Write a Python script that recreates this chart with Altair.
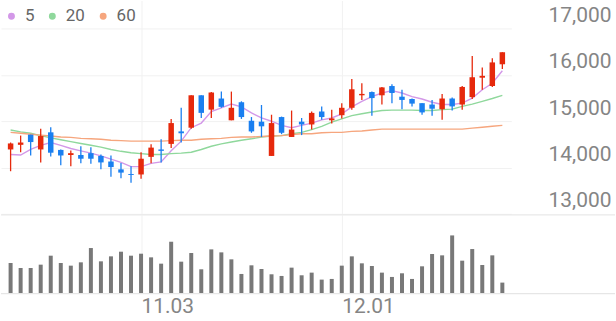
import json
import altair as alt
import pandas as pd

# ---- data ----
dates = ["10.15", "10.16", "10.17", "10.20", "10.21", "10.22", "10.23", "10.24", "10.27", "10.28",
         "10.29", "10.30", "10.31", "11.03", "11.04", "11.05", "11.06", "11.07", "11.10", "11.11",
         "11.12", "11.13", "11.14", "11.17", "11.18", "11.19", "11.20", "11.21", "11.24", "11.25",
         "11.26", "11.27", "11.28", "12.01", "12.02", "12.03", "12.04", "12.05", "12.08", "12.09",
         "12.10", "12.11", "12.12", "12.15", "12.16", "12.17", "12.18", "12.19", "12.22", "12.23"]

opens = [14390, 14490, 14710, 14390, 14760, 14380, 14270, 14270, 14310, 14250,
         14130, 13960, 13860, 13850, 14230, 14390, 14510, 14780, 14860, 15560,
         15250, 15490, 15020, 15410, 15010, 14990, 14250, 15090, 14660, 14990,
         14930, 15210, 15020, 15130, 15290, 15560, 15630, 15560, 15760, 15530,
         15480, 15390, 15360, 15260, 15490, 15360, 15520, 15940, 15760, 16230]
highs = [14540, 14690, 14710, 14840, 14870, 14390, 14370, 14460, 14440, 14280,
         14260, 14100, 14030, 14330, 14500, 14610, 15050, 15290, 15560, 15560,
         15630, 15640, 15640, 15430, 15090, 15350, 15140, 15100, 15230, 15070,
         15210, 15320, 15250, 15390, 15910, 15820, 15640, 15740, 15800, 15680,
         15490, 15390, 15460, 15590, 15510, 15760, 16410, 16160, 16360, 16490]
lows = [13920, 14330, 14260, 14110, 14240, 14050, 14030, 14090, 14080, 13960,
        13800, 13770, 13670, 13760, 14090, 14110, 14420, 14540, 14840, 15070,
        15070, 15290, 15020, 15050, 14750, 14660, 14250, 14720, 14660, 14700,
        14820, 15030, 14950, 15060, 15250, 15460, 15120, 15360, 15390, 15260,
        15320, 15140, 15120, 15030, 15230, 15250, 15480, 15680, 15740, 16130]
closes = [14520, 14540, 14550, 14680, 14320, 14260, 14310, 14190, 14190, 14110,
          14010, 13890, 13840, 14190, 14430, 14360, 14960, 14740, 15560, 15180,
          15620, 15310, 15290, 15090, 14780, 14890, 14960, 14750, 14820, 14930,
          15180, 15090, 15060, 15290, 15690, 15590, 15500, 15730, 15610, 15460,
          15380, 15190, 15270, 15490, 15320, 15740, 15950, 15980, 16270, 16490]

ma5 = [14280, 14270, 14390, 14480, 14540, 14480, 14410, 14360, 14310, 14250,
       14180, 14110, 14020, 14020, 14090, 14120, 14360, 14570, 14860, 14960,
       15210, 15290, 15370, 15310, 15180, 15070, 15000, 14910, 14860, 14910,
       14960, 15030, 15070, 15160, 15310, 15430, 15530, 15610, 15660, 15610,
       15530, 15480, 15410, 15360, 15360, 15390, 15500, 15680, 15820, 16090]
ma20 = [14810, 14770, 14740, 14690, 14640, 14600, 14560, 14520, 14480, 14440,
        14390, 14350, 14320, 14300, 14280, 14280, 14300, 14310, 14330, 14390,
        14460, 14510, 14550, 14590, 14620, 14660, 14680, 14690, 14730, 14760,
        14820, 14890, 14980, 15050, 15120, 15160, 15200, 15230, 15240, 15240,
        15240, 15230, 15230, 15250, 15260, 15320, 15370, 15430, 15490, 15560]
ma60 = [14760, 14740, 14720, 14700, 14680, 14660, 14650, 14630, 14620, 14610,
        14590, 14580, 14570, 14570, 14570, 14570, 14580, 14590, 14590, 14610,
        14620, 14630, 14650, 14660, 14660, 14670, 14680, 14690, 14710, 14730,
        14730, 14750, 14760, 14760, 14780, 14790, 14810, 14830, 14830, 14830,
        14830, 14830, 14830, 14830, 14830, 14830, 14850, 14870, 14890, 14910]

volume = [92, 77, 77, 87, 114, 92, 84, 94, 137, 97,
          112, 126, 114, 120, 109, 90, 156, 96, 122, 73,
          133, 124, 103, 59, 85, 74, 58, 53, 78, 55,
          63, 42, 44, 84, 112, 91, 83, 63, 50, 61,
          44, 82, 119, 115, 175, 99, 134, 86, 115, 33]

ma_names = ["5", "20", "60"]
ma_colors = ["#d398e8", "#8fd89c", "#f6a67e"]
up_color = "#e6290c"
down_color = "#1a7ff0"
label_color = "#858585"
grid_color = "#f1f1f1"
font = "Roboto"

n = len(dates)
df = pd.DataFrame({
    "idx": list(range(n)), "date": dates,
    "open": opens, "high": highs, "low": lows, "close": closes,
    "volume": volume,
})
df["dir"] = ["up" if c >= o else "down" for o, c in zip(opens, closes)]

ma_long = pd.DataFrame({
    "idx": list(range(n)) * 3,
    "ma": sum([[m] * n for m in ma_names], []),
    "value": ma5 + ma20 + ma60,
})
ma_long["col"] = ma_long["ma"].map(dict(zip(ma_names, ma_colors)))

W = 512
H_PRICE = 214
H_VOL = 79

xscale = alt.Scale(domain=[-0.46, 49.4], nice=False, zero=False)
yscale = alt.Scale(domain=[13000, 17607], nice=False, zero=False)
dir_scale = alt.Scale(domain=["up", "down"], range=[up_color, down_color])
ma_scale = alt.Scale(domain=ma_names, range=ma_colors)

x_price_axis = alt.Axis(values=[13, 33], labels=False, ticks=False, domain=False,
                        grid=True, gridColor=grid_color, title=None)
y_axis = alt.Axis(values=[13000, 14000, 15000, 16000, 17000],
                  labelExpr="format(datum.value, ',')",
                  orient="right", labelAlign="right", labelPadding=100, tickSize=0,
                  ticks=False, domain=False, grid=True, gridColor=grid_color,
                  labelFont=font, labelFontSize=21, labelColor=label_color,
                  labelBaseline="alphabetic", labelOffset=-7, title=None)

base = alt.Chart(df)

lines = alt.Chart(ma_long).mark_line(strokeWidth=1.4).encode(
    x=alt.X("idx:Q", scale=xscale, axis=x_price_axis),
    y=alt.Y("value:Q", scale=yscale, axis=y_axis),
    stroke=alt.Stroke("col:N", scale=None),
    detail="ma:N",
)

# filled-dot legend for the moving averages (its points sit outside the clipped view)
legend_dots = alt.Chart(ma_long).transform_calculate(hidden="0").mark_point(
    filled=True, clip=True, opacity=1, size=48
).encode(
    x=alt.X("idx:Q", scale=xscale, axis=x_price_axis),
    y=alt.Y("hidden:Q", scale=yscale, axis=y_axis),
    fill=alt.Fill("ma:N", scale=ma_scale, legend=alt.Legend(
        orient="none", legendX=2, legendY=7, direction="horizontal", title=None,
        symbolType="circle", symbolSize=48, symbolStrokeWidth=0,
        labelFont=font, labelFontSize=17, labelColor="#666666",
        columnPadding=9, gridAlign="each", labelOffset=5, padding=0)),
)

wicks = base.mark_rule(strokeWidth=1.3).encode(
    x=alt.X("idx:Q", scale=xscale, axis=x_price_axis),
    y=alt.Y("low:Q", scale=yscale, axis=y_axis),
    y2="high:Q",
    color=alt.Color("dir:N", scale=dir_scale, legend=None),
)

bodies = base.mark_bar(width=5.5).encode(
    x=alt.X("idx:Q", scale=xscale, axis=x_price_axis),
    y=alt.Y("open:Q", scale=yscale, axis=y_axis),
    y2="close:Q",
    color=alt.Color("dir:N", scale=dir_scale, legend=None),
)

price = alt.layer(lines, legend_dots, wicks, bodies).properties(width=W, height=H_PRICE)

label_expr = json.dumps(dates) + "[datum.value]"
x_vol_axis = alt.Axis(values=[13, 33], labelExpr=label_expr, labelAlign="left",
                      labelBaseline="top", labelPadding=2, labelFont=font,
                      labelFontSize=21, labelColor=label_color, ticks=False,
                      domain=False, grid=True, gridColor=grid_color, title=None)

vol_bars = base.mark_bar(width=4, color="#787878").encode(
    x=alt.X("idx:Q", scale=xscale, axis=x_vol_axis),
    y=alt.Y("volume:Q", scale=alt.Scale(domain=[0, 237], nice=False), axis=None),
)

frame = pd.DataFrame({"k": [0]})
top_line = alt.Chart(frame).mark_rule(color="#e9e9e9", strokeWidth=1.3).encode(
    x=alt.value(0), x2=alt.value(616), y=alt.value(0))
bottom_line = alt.Chart(frame).mark_rule(color="#e6e6e6", strokeWidth=1.3).encode(
    x=alt.value(0), x2=alt.value(616), y=alt.value(H_VOL))

vol = alt.layer(vol_bars, top_line, bottom_line).properties(width=W, height=H_VOL)

chart = (
    alt.vconcat(price, vol, spacing=0)
    .properties(padding=0)
    .configure_view(stroke=None)
)

chart.save("out.html", embed_options={"renderer": "svg", "actions": False})
